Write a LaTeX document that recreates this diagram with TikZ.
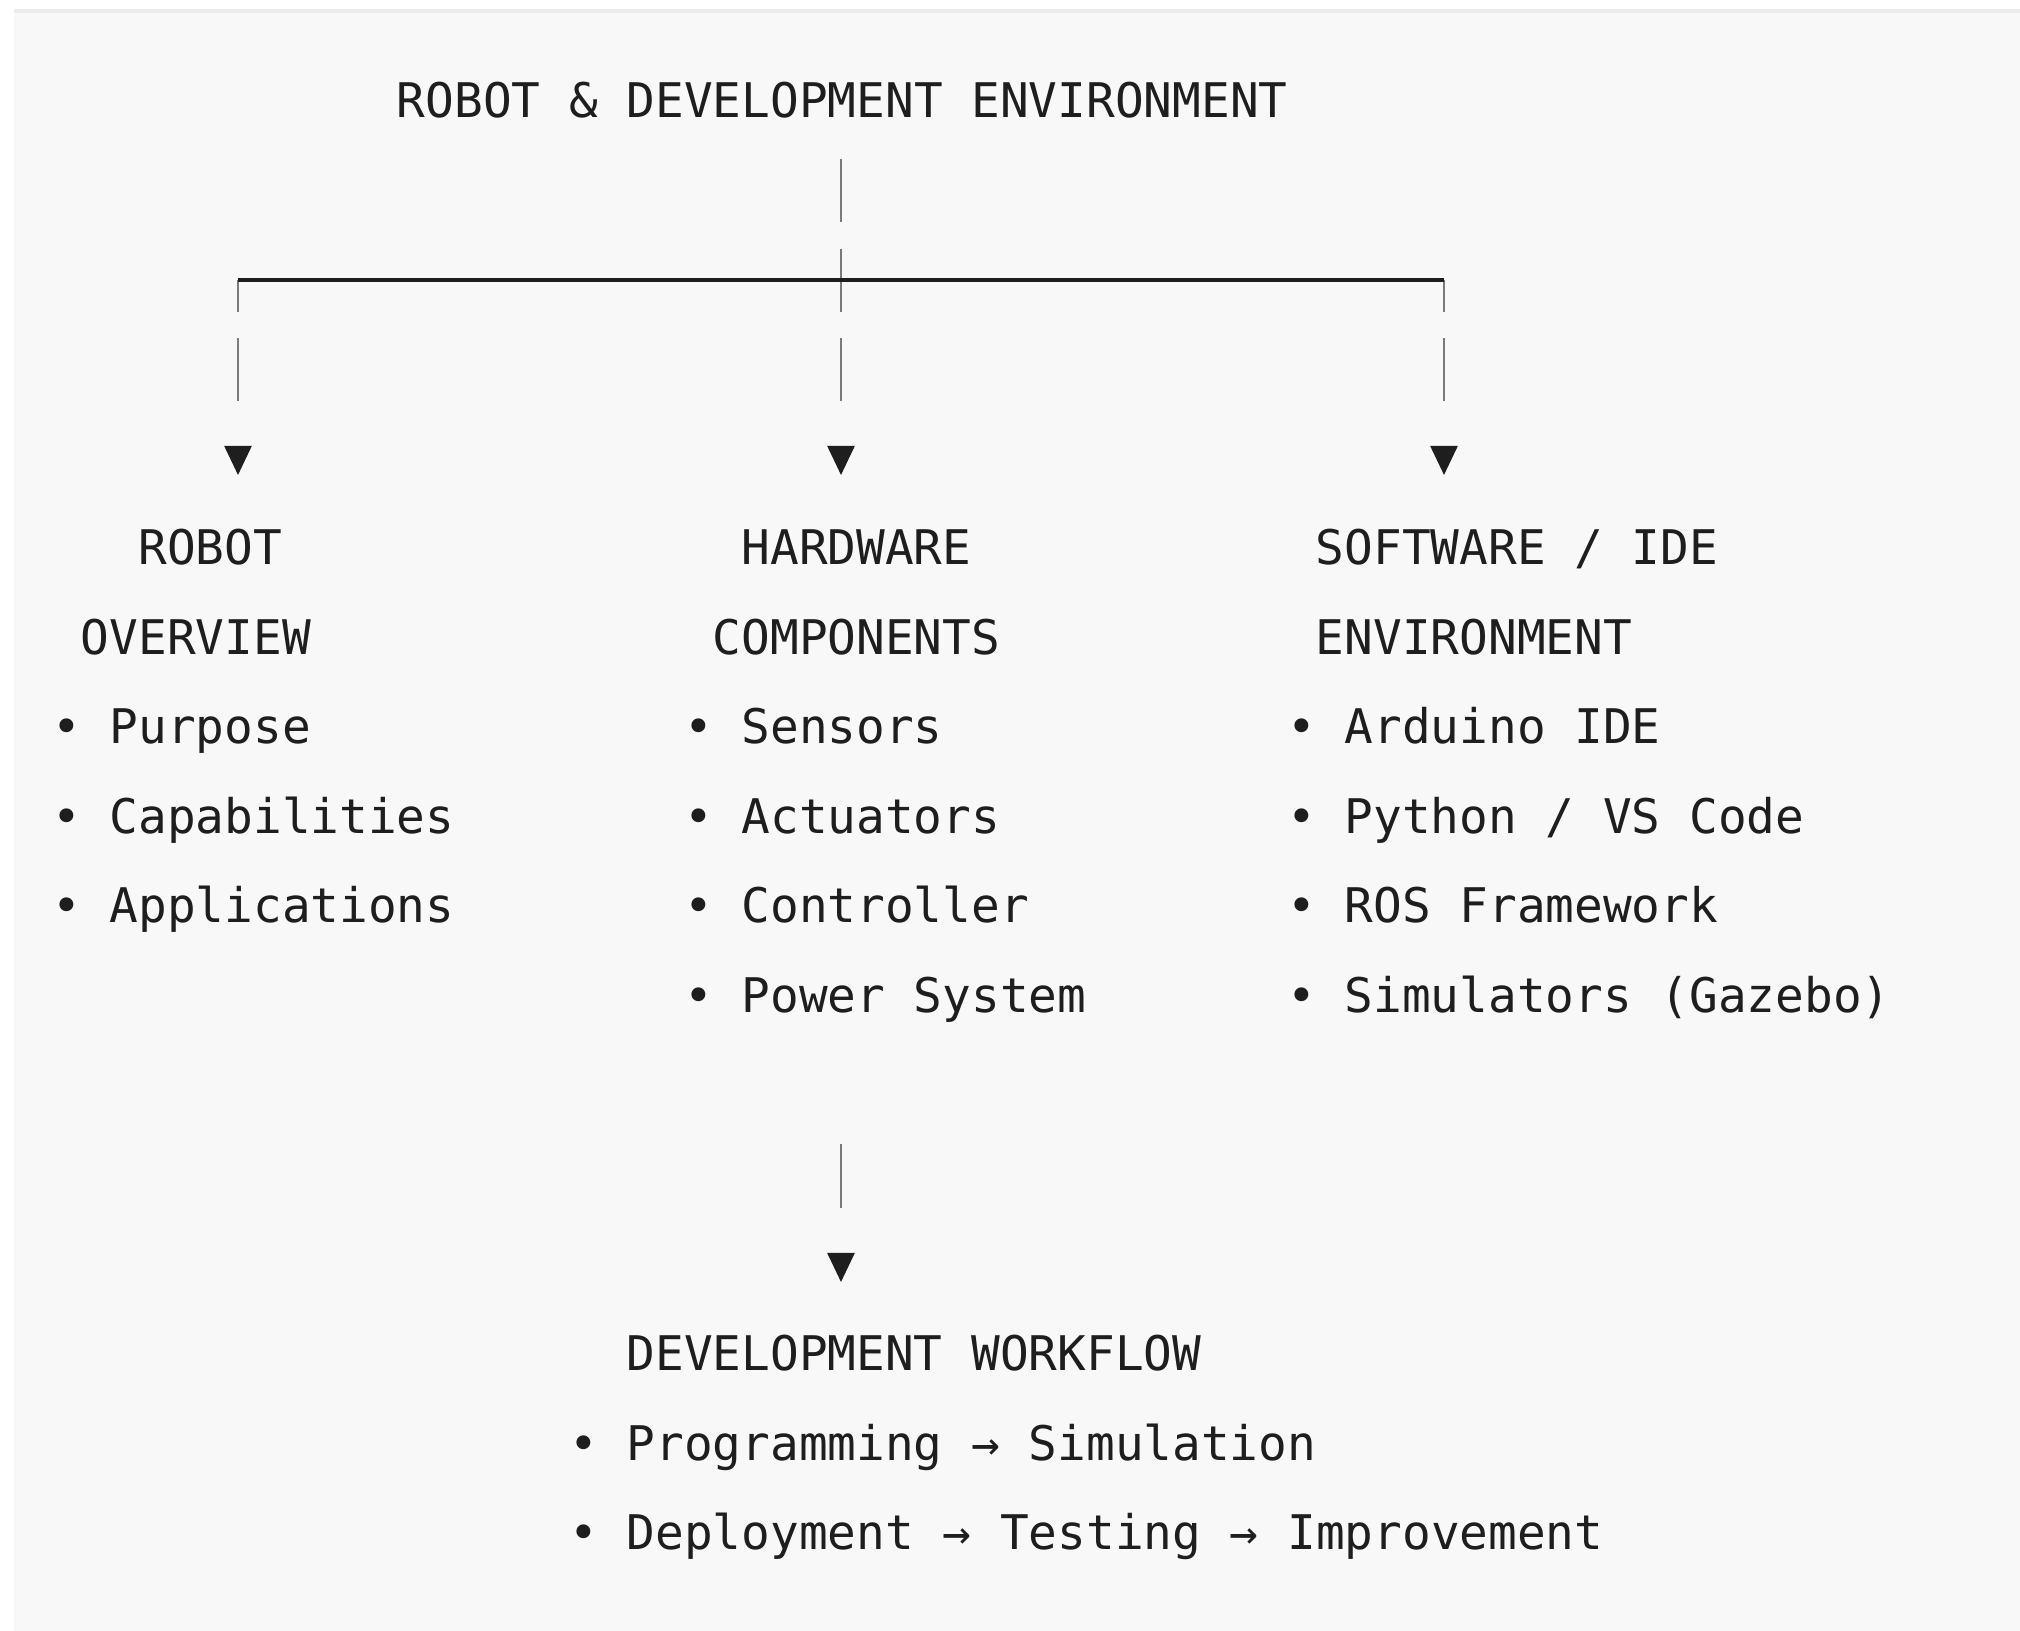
\documentclass[tikz,border=0pt]{standalone}
\usepackage{fontspec}
\setmonofont{DejaVu Sans Mono}
\usetikzlibrary{arrows.meta}

\definecolor{paper}{HTML}{F8F8F8}
\definecolor{edge}{HTML}{EBEBEB}
\definecolor{ink}{HTML}{1E1E1E}
\definecolor{bar}{HTML}{7A7A7A}

\newcommand{\monotext}{\fontsize{13.57pt}{16pt}\selectfont\ttfamily}

\begin{document}
\begin{tikzpicture}[x=0.01cm, y=-0.01cm,
    txt/.style={anchor=base west, inner sep=0pt, text=ink, font=\monotext},
    stub/.style={draw=bar, line width=0.7pt},
    rule/.style={draw=ink, line width=1.1pt},
    tip/.style={-{Triangle[length=2.9mm, width=2.7mm, color=ink]}}]

        % drawing parameters
        \def\cw{28.72} % character width
        \def\lh{89.5} % line height
        \def\xo{109} % first text column
        \def\yo{565} % baseline of the first header line

        % page
        \useasboundingbox (0,0) rectangle (2020,1631);
        \fill[paper] (14,9) rectangle (2020,1631);
        \fill[edge] (14,9) rectangle (2020,13);

        % title
        \node[txt] (title) at (\xo+10*\cw, \yo-5*\lh) {ROBOT \& DEVELOPMENT ENVIRONMENT};

        % column heads
        \node[txt] (robot) at (\xo+\cw, \yo) {ROBOT};
        \node[txt] (overview) at (\xo-\cw, \yo+\lh) {OVERVIEW};
        \node[txt] (hardware) at (\xo+22*\cw, \yo) {HARDWARE};
        \node[txt] (components) at (\xo+21*\cw, \yo+\lh) {COMPONENTS};
        \node[txt] (software) at (\xo+42*\cw, \yo) {SOFTWARE / IDE};
        \node[txt] (environment) at (\xo+42*\cw, \yo+\lh) {ENVIRONMENT};

        % bullet lists
        \foreach \entry [count=\i] in {Purpose, Capabilities, Applications}
            \node[txt] (ov\i) at (\xo-2*\cw, \yo+\i*\lh+\lh) {• \entry};
        \foreach \entry [count=\i] in {Sensors, Actuators, Controller, Power System}
            \node[txt] (hw\i) at (\xo+20*\cw, \yo+\i*\lh+\lh) {• \entry};
        \foreach \entry [count=\i] in {Arduino IDE, Python / VS Code, ROS Framework, Simulators (Gazebo)}
            \node[txt] (sw\i) at (\xo+41*\cw, \yo+\i*\lh+\lh) {• \entry};

        % workflow
        \node[txt] (workflow) at (\xo+18*\cw, \yo+9*\lh) {DEVELOPMENT WORKFLOW};
        \node[txt] (flow1) at (\xo+16*\cw, \yo+10*\lh) {• Programming → Simulation};
        \node[txt] (flow2) at (\xo+16*\cw, \yo+11*\lh) {• Deployment → Testing → Improvement};

        % branch point and arrow tips
        \coordinate (hub) at (841,280);
        \coordinate (tipA) at (238,475);
        \coordinate (tipB) at (841,475);
        \coordinate (tipC) at (1444,475);
        \coordinate (tipD) at (841,1282);

        % stem from the title down to the middle column
        \draw[stub, tip, shorten <=0.415cm,
            dash pattern=on 0.63cm off 0.265cm on 0.63cm off 0.265cm on 0.63cm off 1cm]
            (title.base -| hub) -- (tipB);

        % side branches
        \draw[stub, tip, dash pattern=on 0.32cm off 0.26cm on 0.63cm off 1cm] (hub -| tipA) -- (tipA);
        \draw[stub, tip, dash pattern=on 0.32cm off 0.26cm on 0.63cm off 1cm] (hub -| tipC) -- (tipC);

        % horizontal rule
        \draw[rule] (hub -| tipA) -- (hub -| tipC);

        % stem down to the workflow
        \draw[stub, tip, shorten <=1.315cm, dash pattern=on 0.64cm off 1cm] (hw4.base -| tipD) -- (tipD);

\end{tikzpicture}
\end{document}
